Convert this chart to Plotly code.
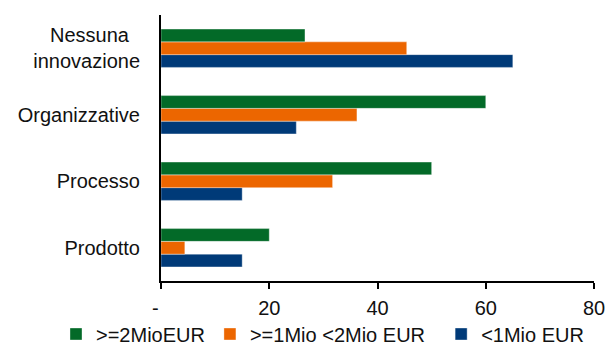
import plotly.graph_objects as go

categories = ["Prodotto", "Processo", "Organizzative", "Nessuna\u00a0\u00a0<br>innovazione"]
series_names = [">=2MioEUR", ">=1Mio <2Mio EUR\u00a0\u00a0", "<1Mio EUR"]
vals_2mio = [20, 50, 60, 26.6]
vals_1to2 = [4.4, 31.7, 36.2, 45.4]
vals_lt1 = [15, 15, 25, 65]
colors = ["#036A28", "#EC6600", "#003A78"]
tick_vals = [0, 20, 40, 60, 80]
tick_text = ["-\u00a0\u00a0", "20", "40", "60", "80"]

FONT = "Liberation Sans, Arial, sans-serif"

fig = go.Figure()
# add bottom-most bar first (blue) so green sits on top within each group
order = [(series_names[2], vals_lt1, colors[2], 3),
         (series_names[1], vals_1to2, colors[1], 2),
         (series_names[0], vals_2mio, colors[0], 1)]
for name, vals, col, rank in order:
    fig.add_trace(go.Bar(
        y=categories, x=vals, name=name, orientation="h",
        marker=dict(color=col, line=dict(color="rgba(255,255,255,0.45)", width=0.8)),
        legendrank=rank,
    ))

fig.update_layout(
    width=607, height=345,
    margin=dict(l=161, r=13, t=15, b=64, autoexpand=False),
    paper_bgcolor="white", plot_bgcolor="white",
    barmode="group", bargap=0.424, bargroupgap=0,
    font=dict(family=FONT, size=20, color="#111111"),
    showlegend=True,
    legend=dict(orientation="h", x=-0.2425, xanchor="left",
                y=-0.1992, yanchor="middle",
                font=dict(size=20), itemwidth=30,
                bgcolor="rgba(0,0,0,0)"),
    xaxis=dict(range=[0, 80], tickvals=tick_vals, ticktext=tick_text,
               showgrid=False, zeroline=False, showline=True,
               linecolor="black", linewidth=2,
               ticks="outside", ticklen=6, tickwidth=2, tickcolor="black",
               ticklabelstandoff=2,
               tickfont=dict(size=20), fixedrange=True),
    yaxis=dict(showgrid=False, zeroline=False, showline=True,
               linecolor="black", linewidth=2, ticks="",
               ticklabelstandoff=15, tickfont=dict(size=20),
               categoryorder="array", categoryarray=categories),
)

# remove the default 8px body margin so the figure fills the window exactly
fig.write_html("out.html",
               config={"displayModeBar": False, "staticPlot": True},
               post_script="document.body.style.margin='0';document.body.style.overflow='hidden';")
